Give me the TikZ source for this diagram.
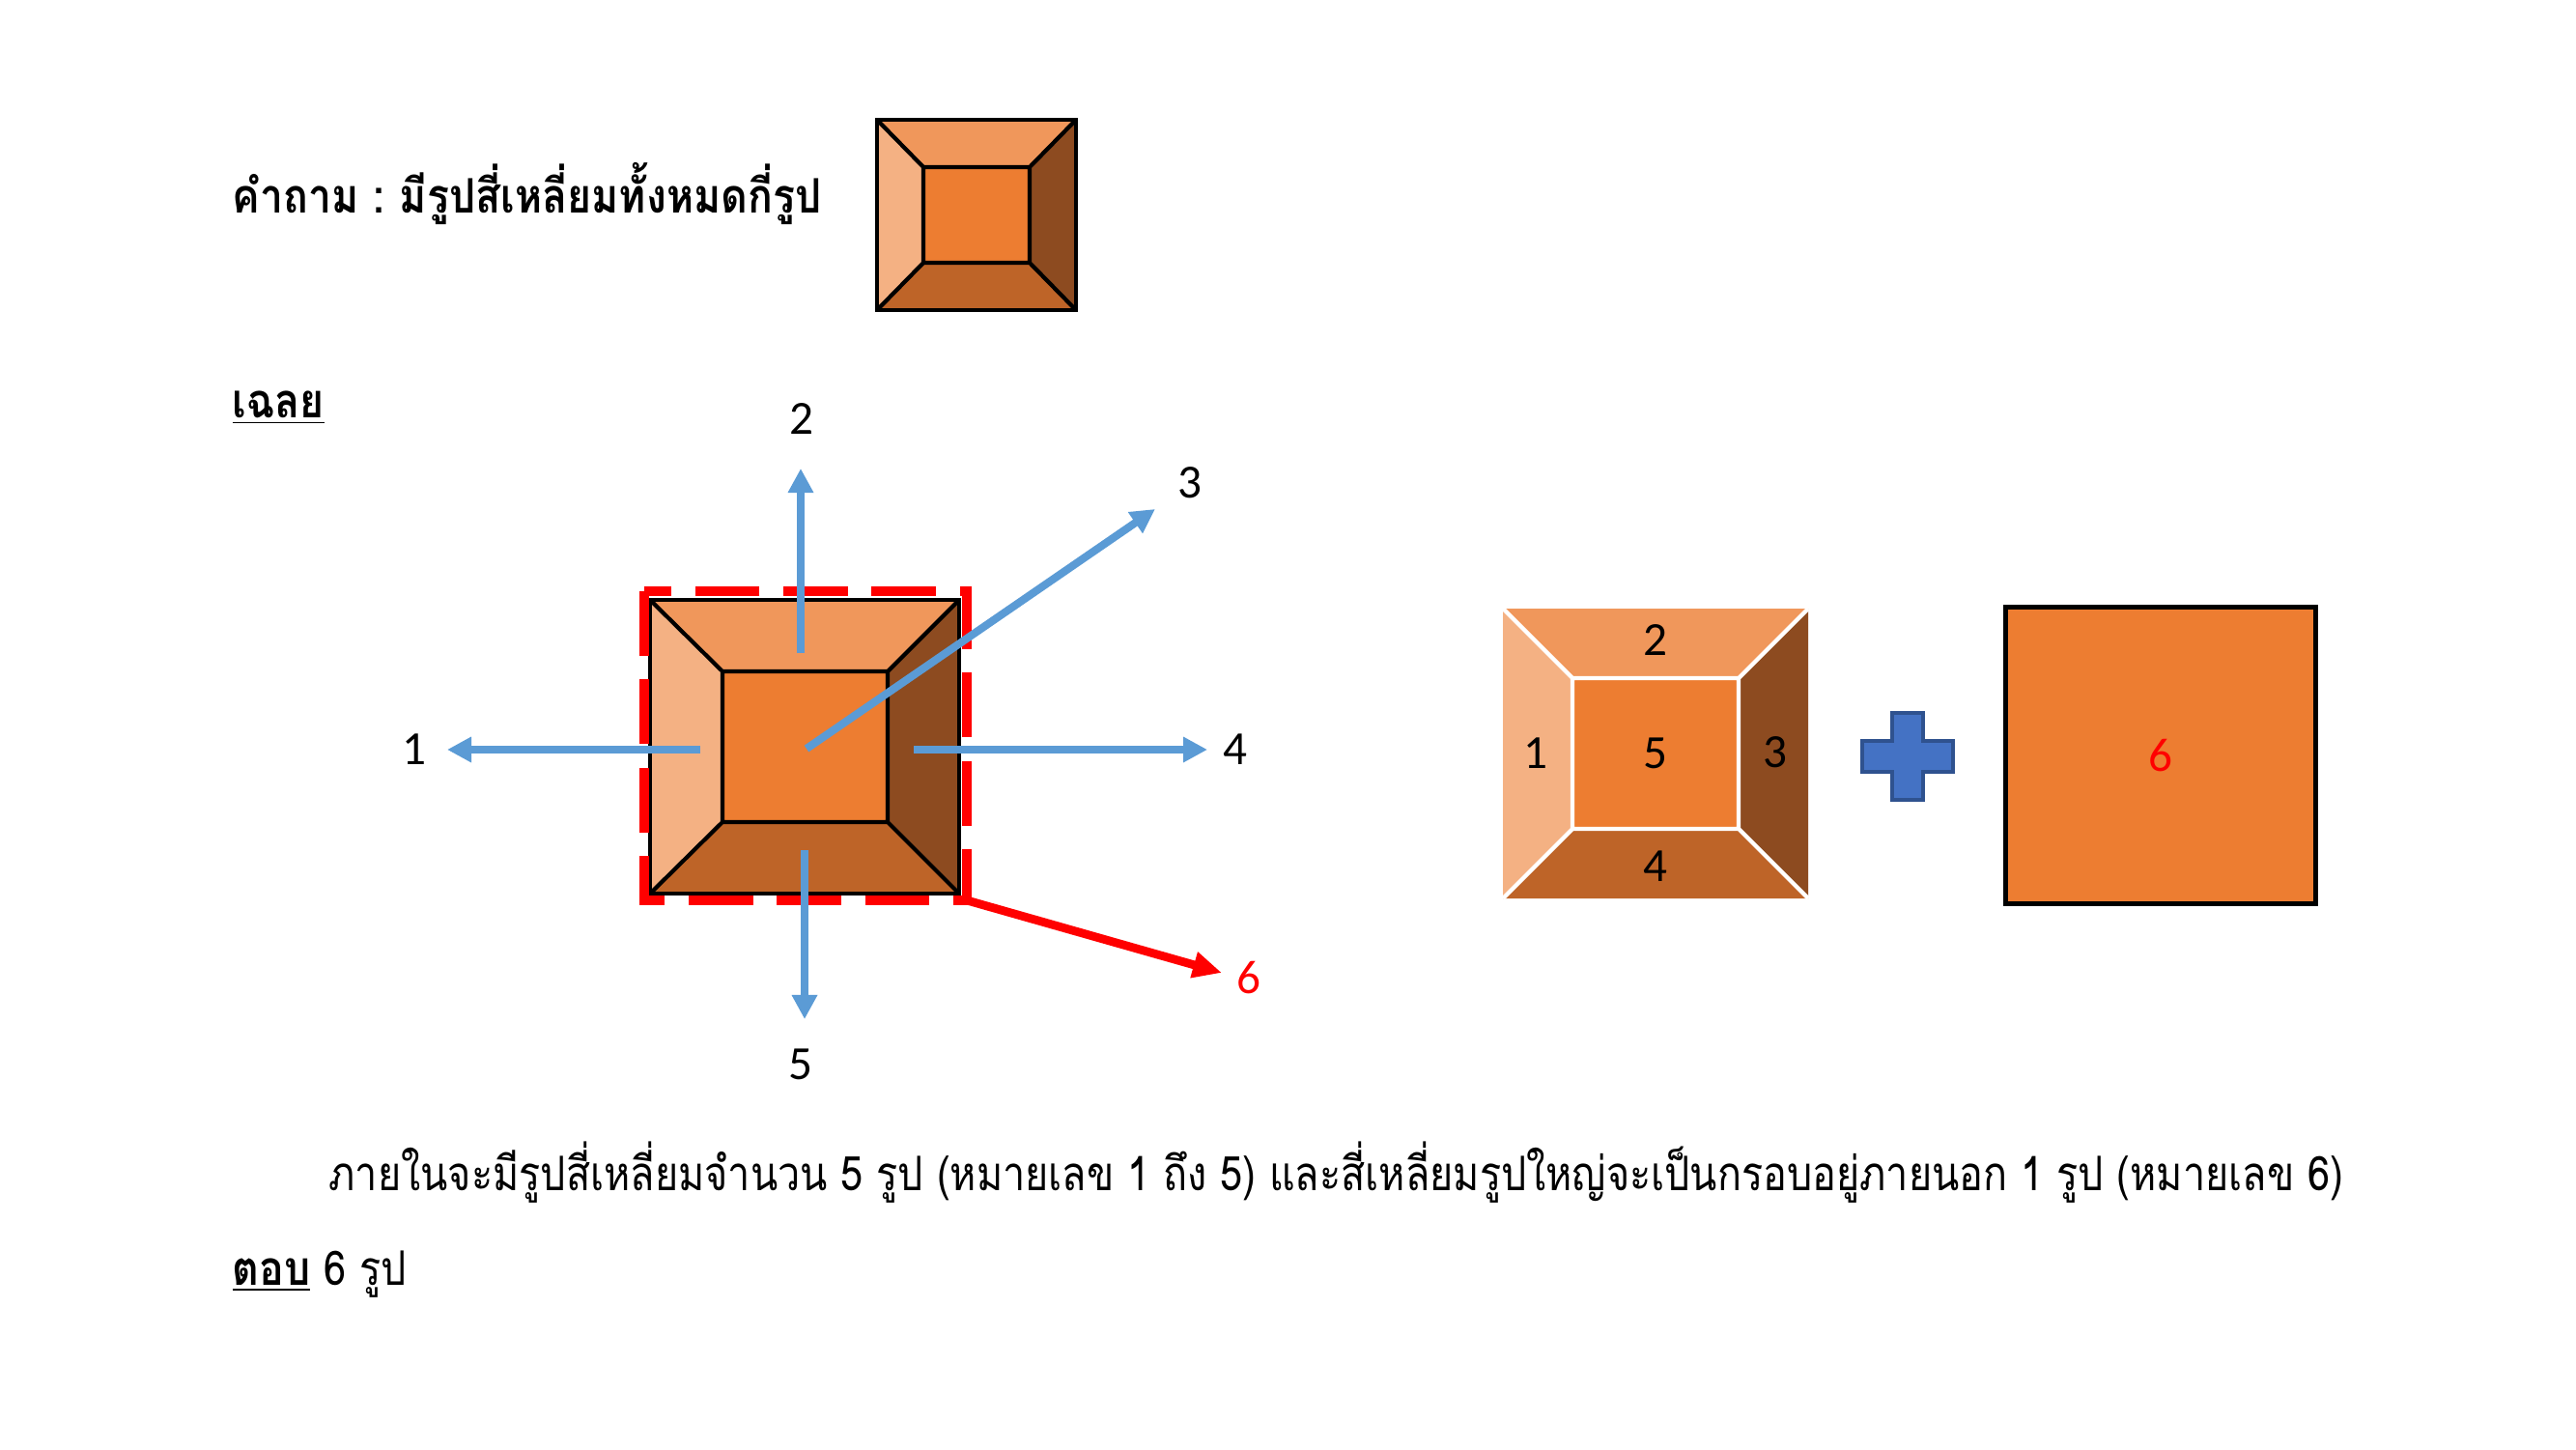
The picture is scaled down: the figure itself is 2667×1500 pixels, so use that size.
\documentclass[tikz,border=0pt]{standalone}
\usepackage{fontspec}
\setmainfont{Carlito}
\newfontfamily\thaifont[Script=Thai,FakeStretch=0.84,BoldFeatures={FakeStretch=0.87}]{Loma}
\usetikzlibrary{arrows.meta}

\definecolor{bvcenter}{HTML}{ED7D31}
\definecolor{bvtop}{HTML}{F0975B}
\definecolor{bvleft}{HTML}{F4B183}
\definecolor{bvbottom}{HTML}{BE6428}
\definecolor{bvright}{HTML}{8D4B20}
\definecolor{arrowblue}{HTML}{5B9BD5}
\definecolor{plusblue}{HTML}{4472C4}
\definecolor{plusedge}{HTML}{2F528F}

% outer left,top,right,bottom; inner left,top,right,bottom; edge style
\newcommand{\bevelbox}[9]{%
  \fill[bvtop] (#1,#2) -- (#3,#2) -- (#7,#6) -- (#5,#6) -- cycle;
  \fill[bvbottom] (#1,#4) -- (#3,#4) -- (#7,#8) -- (#5,#8) -- cycle;
  \fill[bvleft] (#1,#2) -- (#5,#6) -- (#5,#8) -- (#1,#4) -- cycle;
  \fill[bvright] (#3,#2) -- (#7,#6) -- (#7,#8) -- (#3,#4) -- cycle;
  \fill[bvcenter] (#5,#6) rectangle (#7,#8);
  \draw[#9] (#1,#2) -- (#5,#6) (#3,#2) -- (#7,#6) (#3,#4) -- (#7,#8)
    (#1,#4) -- (#5,#8) (#5,#6) rectangle (#7,#8);
}

\begin{document}
\begin{tikzpicture}[x=0.01cm,y=-0.01cm,
  thaitext/.style={font=\thaifont\fontsize{14}{17}\selectfont,inner sep=0pt,anchor=base west},
  thaihead/.style={font=\thaifont\bfseries\fontsize{14}{17}\selectfont,inner sep=0pt,anchor=base west},
  numlabel/.style={font=\fontsize{14}{17}\selectfont,inner sep=0pt},
  blackedge/.style={draw=black,line width=1.2pt,line join=miter},
  whiteedge/.style={draw=white,line width=1.2pt},
  bluearrow/.style={draw=arrowblue,line width=2.3pt,-{Triangle[length=2.5mm,width=2.5mm]}},
  redarrow/.style={draw=red,line width=2.5pt,-{Triangle[length=3mm,width=2.6mm]}},
  dashframe/.style={draw=red,line width=2.85pt,dash pattern=on 19pt off 7pt},
  bigsquare/.style={draw=black,line width=1.4pt,fill=bvcenter,text=red,
    minimum width=3.2cm,minimum height=3.07cm,font=\fontsize{14}{17}\selectfont},
  plusshape/.style={draw=plusedge,fill=plusblue,line width=1pt}]

\useasboundingbox (0,0) rectangle (2667,1500);

% question
\node[thaihead] (question) at (240,221) {คำถาม :\hspace{0.16cm}มีรูปสี่เหลี่ยมทั้งหมดกี่รูป};
\bevelbox{908}{124}{1114}{321}{956}{173}{1066}{272}{blackedge}
\draw[blackedge] (908,124) rectangle (1114,321);

% answer heading
\node[thaihead] (answer) at (240,432) {\underline{เฉลย}};

% middle figure
\bevelbox{673}{621}{993}{925}{748}{695}{919}{851}{blackedge}
\draw[blackedge] (673,621) rectangle (993,925);
\draw[dashframe] (667,612) rectangle (1001,932);

\coordinate (s1) at (725,776);
\coordinate (t1) at (463,776);
\coordinate (s2) at (829,676);
\coordinate (t2) at (829,485);
\coordinate (s3) at (835,775);
\coordinate (t3) at (1196,527);
\coordinate (s4) at (946,776);
\coordinate (t4) at (1250,776);
\coordinate (s5) at (833,880);
\coordinate (t5) at (833,1055);
\coordinate (s6) at (1001,932);
\coordinate (t6) at (1265,1007);

\draw[bluearrow] (s1) -- (t1);
\draw[bluearrow] (s2) -- (t2);
\draw[bluearrow] (s3) -- (t3);
\draw[bluearrow] (s4) -- (t4);
\draw[bluearrow] (s5) -- (t5);
\draw[redarrow] (s6) -- (t6);

\node[numlabel] (n1) at (429,776) {1};
\node[numlabel] (n2) at (830,434) {2};
\node[numlabel] (n3) at (1232,500) {3};
\node[numlabel] (n4) at (1279,776) {4};
\node[numlabel] (n5) at (829,1102) {5};
\node[numlabel,text=red] (n6) at (1293,1012) {6};

% right: five pieces + big square
\bevelbox{1556}{630}{1872}{930}{1628}{702}{1800}{858}{whiteedge}
\node[numlabel] (p1) at (1590,780) {1};
\node[numlabel] (p2) at (1714,663) {2};
\node[numlabel] (p3) at (1838,779) {3};
\node[numlabel] (p4) at (1714,897) {4};
\node[numlabel] (p5) at (1714,780) {5};

\draw[plusshape] (1959,738) -- (1991,738) -- (1991,767) -- (2022,767) -- (2022,799)
  -- (1991,799) -- (1991,828) -- (1959,828) -- (1959,799) -- (1928,799)
  -- (1928,767) -- (1959,767) -- cycle;

\node[bigsquare] (sq6) at (2237,782) {6};

% explanation
\node[thaitext] (explain) at (340,1232)
  {ภายในจะมีรูปสี่เหลี่ยมจำนวน 5 รูป (หมายเลข 1 ถึง 5) และสี่เหลี่ยมรูปใหญ่จะเป็นกรอบอยู่ภายนอก 1 รูป (หมายเลข 6)};
\node[thaitext] (reply) at (240,1330) {{\bfseries\underline{ตอบ}} 6 รูป};
\end{tikzpicture}
\end{document}
